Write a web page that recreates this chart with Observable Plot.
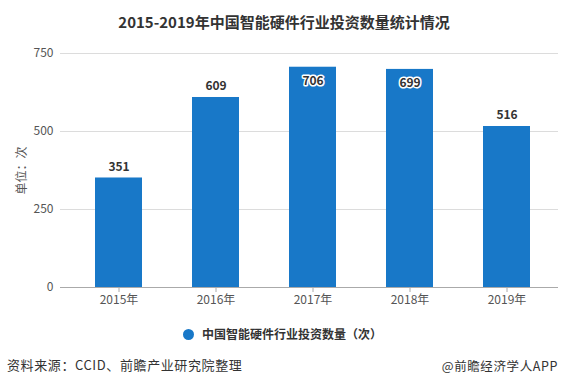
<!DOCTYPE html>
<html><head><meta charset="utf-8">
<script src="https://cdn.jsdelivr.net/npm/d3@7"></script>
<script src="https://cdn.jsdelivr.net/npm/@observablehq/plot@0.6"></script>
<style>
body{margin:0;background:#fff;font-family:"Noto Sans CJK SC","Noto Sans",sans-serif;}
#wrap{position:relative;width:568px;height:387px;overflow:hidden;background:#fff;}
#title{position:absolute;left:0;top:11px;width:568px;text-align:center;font-size:15px;font-weight:bold;color:#333;line-height:22px;}
#chart{position:absolute;left:0;top:40px;}
#legend{position:absolute;left:183px;top:325px;height:18px;line-height:18px;font-size:12px;font-weight:bold;color:#333;white-space:nowrap;}
#legend .dot{display:inline-block;width:11px;height:11px;border-radius:50%;background:#1878c8;vertical-align:middle;margin-right:8px;position:relative;top:-1px;}
#src{position:absolute;left:7px;top:356px;font-size:13px;color:#333;line-height:18px;letter-spacing:0.6px;white-space:nowrap;}
#brand{position:absolute;right:10px;top:357px;font-size:12.5px;color:#333;line-height:18px;letter-spacing:0.6px;white-space:nowrap;}
</style></head><body>
<div id="wrap">
<div id="title">2015-2019年中国智能硬件行业投资数量统计情况</div>
<div id="chart"></div>
<div id="legend"><span class="dot"></span><span>中国智能硬件行业投资数量（次）</span></div>
<div id="src">资料来源：CCID、前瞻产业研究院整理</div>
<div id="brand">@前瞻经济学人APP</div>
</div>
<script>
const years = ["2015年","2016年","2017年","2018年","2019年"];
const counts = [351, 609, 706, 699, 516];
const yTicks = [0, 250, 500, 750];
const barColor = "#1878c8";

const data = years.map((y, i) => ({year: y, value: counts[i]}));

const chart = Plot.plot({
  width: 568,
  height: 275,
  marginTop: 13,
  marginBottom: 28,
  marginLeft: 60,
  marginRight: 10,
  style: {fontFamily: '"Noto Sans CJK SC","Noto Sans",sans-serif', fontSize: "12px", color: "#555", background: "transparent"},
  x: {domain: years, range: [68, 557], paddingInner: 0.52, paddingOuter: 0.26, label: null},
  y: {domain: [0, 750], label: null},
  marks: [
    Plot.gridY(yTicks, {stroke: "#dcdcdc", strokeOpacity: 1}),
    Plot.barY(data, {x: "year", y: "value", fill: barColor}),
    Plot.ruleY([0], {stroke: "#aaa"}),
    Plot.axisX({tickSize: 5, tickPadding: 3, stroke: "#aaa", fill: "#555"}),
    Plot.axisY(yTicks, {tickSize: 0, tickPadding: 7, fill: "#555", label: "单位：次", labelAnchor: "center", labelArrow: "none", labelOffset: 43}),
    Plot.text(data, {filter: d => d.value < 650, x: "year", y: "value", text: d => String(d.value), dy: -11, fontWeight: "bold", fontSize: 12, fill: "#333", stroke: "white", strokeWidth: 3}),
    Plot.text(data, {filter: d => d.value >= 650, x: "year", y: "value", text: d => String(d.value), dy: 14, fontWeight: "bold", fontSize: 12, fill: "#333", stroke: "white", strokeWidth: 3})
  ]
});
document.getElementById("chart").appendChild(chart);
</script>
</body></html>
